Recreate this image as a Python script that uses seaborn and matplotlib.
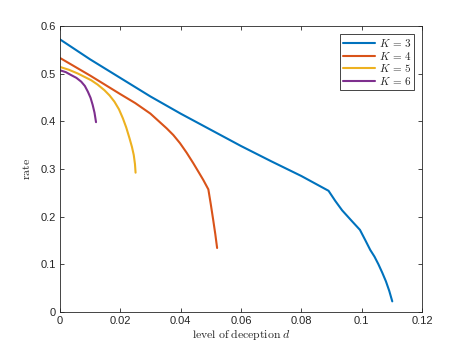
import matplotlib
matplotlib.use("Agg")
import matplotlib.pyplot as plt
import seaborn as sns

# K = 3
d3 = [0, 0.01, 0.02, 0.03, 0.04, 0.05, 0.06, 0.07, 0.08, 0.089,
      0.0912, 0.0935, 0.0965, 0.0994, 0.1012, 0.1028, 0.1042, 0.1055, 0.1068, 0.108, 0.1091, 0.1101]
r3 = [0.572, 0.530, 0.491, 0.452, 0.416, 0.382, 0.348, 0.316, 0.285, 0.254,
      0.233, 0.213, 0.192, 0.172, 0.150, 0.130, 0.116, 0.100, 0.082, 0.064, 0.044, 0.022]
# K = 4
d4 = [0, 0.01, 0.02, 0.025, 0.03, 0.0354, 0.0376, 0.0398, 0.042, 0.0442,
      0.046, 0.0475, 0.0492, 0.0500, 0.0508, 0.0515, 0.0521]
r4 = [0.533, 0.496, 0.457, 0.438, 0.416, 0.385, 0.371, 0.354, 0.334, 0.312,
      0.293, 0.277, 0.257, 0.226, 0.193, 0.163, 0.134]
# K = 5
d5 = [0, 0.003, 0.006, 0.0104, 0.0125, 0.0148, 0.0165, 0.0181, 0.0196, 0.0209,
      0.022, 0.0231, 0.0239, 0.0245, 0.0249, 0.0251]
r5 = [0.514, 0.508, 0.500, 0.486, 0.477, 0.465, 0.454, 0.441, 0.425, 0.406,
      0.387, 0.364, 0.346, 0.329, 0.310, 0.292]
# K = 6
d6 = [0, 0.002, 0.0037, 0.0055, 0.0071, 0.0083, 0.0093, 0.0102, 0.0109, 0.0115, 0.0120]
r6 = [0.507, 0.503, 0.497, 0.491, 0.483, 0.474, 0.462, 0.449, 0.434, 0.418, 0.398]

labels = [r"$K\,=\,3$", r"$K\,=\,4$", r"$K\,=\,5$", r"$K\,=\,6$"]
colors = ["#0072BD", "#D95319", "#EDB120", "#7E2F8E"]

sns.set_style("white")
plt.rcParams["font.family"] = ["Liberation Sans", "DejaVu Sans"]
plt.rcParams["mathtext.fontset"] = "cm"

fig = plt.figure(figsize=(4.67, 3.5), dpi=100)
ax = fig.add_axes([0.128, 0.109, 0.776, 0.817])

for xs, ys, lab, c in zip([d3, d4, d5, d6], [r3, r4, r5, r6], labels, colors):
    sns.lineplot(x=xs, y=ys, ax=ax, color=c, linewidth=1.5, label=lab,
                 sort=False, estimator=None)

ax.set_xlim(0, 0.12)
ax.set_ylim(0, 0.6)
ax.set_xticks([0, 0.02, 0.04, 0.06, 0.08, 0.1, 0.12])
ax.set_xticklabels(["0", "0.02", "0.04", "0.06", "0.08", "0.1", "0.12"])
ax.set_yticks([0, 0.1, 0.2, 0.3, 0.4, 0.5, 0.6])
ax.set_yticklabels(["0", "0.1", "0.2", "0.3", "0.4", "0.5", "0.6"])

axc = "#262626"
for s in ax.spines.values():
    s.set_color(axc)
    s.set_linewidth(0.6)
ax.tick_params(direction="in", length=3, width=0.6, colors=axc, labelsize=8,
               top=True, right=True, bottom=True, left=True, pad=3)

ax.set_xlabel(r"$\mathrm{level\;of\;deception}\;d$", fontsize=8.5, color=axc, labelpad=1)
ax.set_ylabel(r"$\mathrm{rate}$", fontsize=8.5, color=axc, labelpad=5)

leg = ax.legend(loc="upper right", fontsize=8, handlelength=2.9, fancybox=False,
                framealpha=1, edgecolor=axc, borderpad=0.3, labelspacing=0.05,
                handletextpad=0.3, borderaxespad=0.7)
leg.get_frame().set_linewidth(0.6)

fig.savefig("out.png", dpi=100)
